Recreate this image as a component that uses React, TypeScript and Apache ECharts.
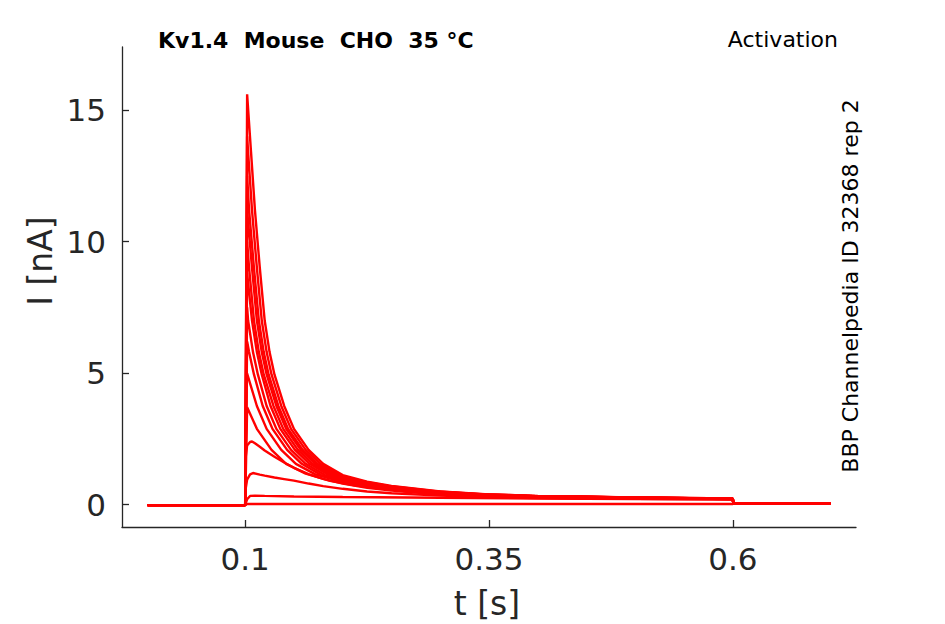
import React, { useEffect, useRef } from "react";
import * as echarts from "echarts";

// Tick positions / labels
const X_TICKS = [0.1, 0.35, 0.6];
const X_TICK_LABELS = ["0.1", "0.35", "0.6"];
const Y_TICKS = [0, 5, 10, 15];
const Y_TICK_LABELS = ["0", "5", "10", "15"];

// Baseline segments (before the step and after it), [t (s), I (nA)]
const PRE = [[0.0, -0.02], [0.1, -0.02]];
const POST = [[0.6005, 0.05], [0.7, 0.04]];

// Activation traces, [t (s), I (nA)]
const TRACE_156 = [[0.1, 0.0], [0.102, 15.6], [0.106, 13.4], [0.110, 11.2], [0.115, 9.0], [0.120, 7.0], [0.125, 5.8], [0.130, 4.95], [0.140, 3.75], [0.150, 2.88], [0.165, 2.08], [0.180, 1.55], [0.200, 1.12], [0.225, 0.87], [0.250, 0.71], [0.300, 0.50], [0.350, 0.39], [0.400, 0.33], [0.500, 0.27], [0.600, 0.23]];
const TRACE_140 = [[0.1, 0.0], [0.102, 14.0], [0.103, 13.4], [0.107, 11.2], [0.112, 9.0], [0.117, 7.0], [0.122, 5.8], [0.127, 4.95], [0.137, 3.75], [0.147, 2.88], [0.162, 2.08], [0.177, 1.55], [0.197, 1.12], [0.222, 0.87], [0.247, 0.71], [0.297, 0.50], [0.347, 0.39], [0.397, 0.33], [0.497, 0.27], [0.600, 0.23]];
const TRACE_125 = [[0.1, 0.0], [0.102, 12.5], [0.104, 11.2], [0.109, 9.0], [0.114, 7.0], [0.119, 5.8], [0.124, 4.95], [0.134, 3.75], [0.144, 2.88], [0.159, 2.08], [0.174, 1.55], [0.194, 1.12], [0.219, 0.87], [0.244, 0.71], [0.294, 0.50], [0.344, 0.39], [0.394, 0.33], [0.494, 0.27], [0.600, 0.22]];
const TRACE_112 = [[0.1, 0.0], [0.102, 11.2], [0.107, 9.0], [0.112, 7.0], [0.117, 5.8], [0.122, 4.95], [0.132, 3.75], [0.142, 2.88], [0.157, 2.08], [0.172, 1.55], [0.192, 1.12], [0.217, 0.87], [0.242, 0.71], [0.292, 0.50], [0.342, 0.39], [0.392, 0.33], [0.492, 0.27], [0.600, 0.22]];
const TRACE_100 = [[0.1, 0.0], [0.102, 10.0], [0.104, 9.0], [0.109, 7.0], [0.114, 5.8], [0.119, 4.95], [0.129, 3.75], [0.139, 2.88], [0.154, 2.08], [0.169, 1.55], [0.189, 1.12], [0.214, 0.87], [0.239, 0.71], [0.289, 0.50], [0.339, 0.39], [0.389, 0.33], [0.489, 0.27], [0.600, 0.22]];
const TRACE_088 = [[0.1, 0.0], [0.102, 8.8], [0.107, 7.0], [0.112, 5.8], [0.117, 4.95], [0.126, 3.75], [0.136, 2.88], [0.151, 2.08], [0.166, 1.55], [0.186, 1.12], [0.211, 0.87], [0.236, 0.71], [0.286, 0.50], [0.336, 0.39], [0.386, 0.33], [0.486, 0.27], [0.600, 0.22]];
const TRACE_075 = [[0.1, 0.0], [0.102, 7.5], [0.103, 7.0], [0.108, 5.8], [0.113, 4.95], [0.122, 3.75], [0.132, 2.88], [0.147, 2.08], [0.162, 1.55], [0.182, 1.12], [0.207, 0.87], [0.232, 0.71], [0.282, 0.50], [0.332, 0.39], [0.382, 0.33], [0.482, 0.27], [0.600, 0.22]];
const TRACE_062 = [[0.1, 0.0], [0.102, 6.2], [0.104, 5.8], [0.109, 4.95], [0.118, 3.75], [0.128, 2.88], [0.143, 2.08], [0.158, 1.55], [0.178, 1.12], [0.203, 0.87], [0.228, 0.71], [0.278, 0.50], [0.328, 0.39], [0.378, 0.33], [0.478, 0.27], [0.600, 0.21]];
const TRACE_050 = [[0.1, 0.0], [0.1015, 5.0], [0.102, 4.98], [0.112, 3.75], [0.122, 2.88], [0.137, 2.08], [0.152, 1.55], [0.172, 1.15], [0.197, 0.88], [0.222, 0.72], [0.272, 0.50], [0.322, 0.39], [0.372, 0.33], [0.472, 0.27], [0.600, 0.21]];
const TRACE_037 = [[0.1, 0.0], [0.102, 3.7], [0.112, 2.88], [0.127, 2.08], [0.142, 1.55], [0.162, 1.18], [0.187, 0.9], [0.212, 0.73], [0.262, 0.51], [0.312, 0.39], [0.362, 0.33], [0.462, 0.27], [0.600, 0.21]];
const TRACE_024 = [[0.1, 0.0], [0.1005, 1.8], [0.102, 2.25], [0.105, 2.38], [0.107, 2.4], [0.110, 2.33], [0.115, 2.2], [0.120, 2.06], [0.130, 1.82], [0.140, 1.6], [0.150, 1.4], [0.165, 1.16], [0.180, 0.98], [0.200, 0.8], [0.225, 0.64], [0.250, 0.53], [0.300, 0.38], [0.350, 0.3], [0.400, 0.26], [0.500, 0.22], [0.600, 0.2]];
const TRACE_012 = [[0.1, 0.0], [0.1005, 0.6], [0.102, 0.95], [0.105, 1.15], [0.108, 1.2], [0.115, 1.14], [0.120, 1.1], [0.130, 1.03], [0.140, 0.97], [0.150, 0.91], [0.165, 0.8], [0.180, 0.7], [0.200, 0.6], [0.225, 0.5], [0.250, 0.43], [0.300, 0.34], [0.350, 0.28], [0.400, 0.25], [0.500, 0.22], [0.600, 0.2]];
const TRACE_003 = [[0.1, 0.0], [0.1005, 0.05], [0.102, 0.2], [0.105, 0.33], [0.110, 0.34], [0.120, 0.33], [0.150, 0.31], [0.200, 0.29], [0.300, 0.26], [0.400, 0.23], [0.500, 0.21], [0.600, 0.2]];
const TRACE_000 = [[0.1, 0.0], [0.1005, 0.02], [0.600, 0.02]];

const TRACES = [TRACE_000, TRACE_003, TRACE_012, TRACE_024, TRACE_037, TRACE_050, TRACE_062, TRACE_075, TRACE_088, TRACE_100, TRACE_112, TRACE_125, TRACE_140, TRACE_156];

const TITLE = "Kv1.4  Mouse  CHO  35 °C";
const PROTOCOL = "Activation";
const SOURCE = "BBP Channelpedia ID 32368 rep 2";
const X_NAME = "t [s]";
const Y_NAME = "I [nA]";

const FONT = "'DejaVu Sans', 'Noto Sans', sans-serif";
const AXIS_COLOR = "#262626";

export default function App() {
  const ref = useRef<HTMLDivElement>(null);
  useEffect(() => {
    if (!ref.current) return;
    const chart = echarts.init(ref.current, undefined, { renderer: "svg" });
    const series = TRACES.map((tr) => ({
      type: "line",
      data: [...PRE, ...tr, ...POST],
      showSymbol: false,
      symbol: "none",
      lineStyle: { color: "#ff0000", width: 2.4 },
      itemStyle: { color: "#ff0000" },
      emphasis: { disabled: true },
      silent: true,
      z: 2,
    }));
    chart.setOption({
      animation: false,
      backgroundColor: "#ffffff",
      grid: { left: 122, right: 89, top: 47, bottom: 97, containLabel: false },
      xAxis: {
        type: "value",
        min: -0.0263,
        max: 0.7263,
        axisLine: { show: true, onZero: false, lineStyle: { color: AXIS_COLOR, width: 1.3 } },
        axisTick: { show: true, inside: true, length: 7, customValues: X_TICKS, lineStyle: { color: AXIS_COLOR, width: 1.3 } },
        axisLabel: {
          customValues: X_TICKS,
          formatter: (v: number) => {
            const i = X_TICKS.findIndex((t) => Math.abs(t - v) < 1e-9);
            return i >= 0 ? X_TICK_LABELS[i] : "";
          },
          color: AXIS_COLOR,
          fontSize: 31,
          fontFamily: FONT,
          margin: 16,
        },
        splitLine: { show: false },
      },
      yAxis: {
        type: "value",
        min: -0.852,
        max: 17.4,
        axisLine: { show: true, onZero: false, lineStyle: { color: AXIS_COLOR, width: 1.3 } },
        axisTick: { show: true, inside: true, length: 7, customValues: Y_TICKS, lineStyle: { color: AXIS_COLOR, width: 1.3 } },
        axisLabel: {
          customValues: Y_TICKS,
          formatter: (v: number) => {
            const i = Y_TICKS.findIndex((t) => Math.abs(t - v) < 1e-9);
            return i >= 0 ? Y_TICK_LABELS[i] : "";
          },
          color: AXIS_COLOR,
          fontSize: 31,
          fontFamily: FONT,
          margin: 16,
        },
        splitLine: { show: false },
      },
      graphic: [
        {
          type: "text",
          x: 158,
          y: 40,
          style: { text: TITLE, fill: "#000000", font: `bold 22px ${FONT}`, align: "left", verticalAlign: "middle" },
        },
        {
          type: "text",
          x: 838,
          y: 39,
          style: { text: PROTOCOL, fill: "#000000", font: `22px ${FONT}`, align: "right", verticalAlign: "middle" },
        },
        {
          type: "text",
          x: 850,
          y: 286,
          rotation: Math.PI / 2,
          style: { text: SOURCE, fill: "#000000", font: `22px ${FONT}`, align: "center", verticalAlign: "middle" },
        },
        {
          type: "text",
          x: 487,
          y: 603,
          style: { text: X_NAME, fill: AXIS_COLOR, font: `33px ${FONT}`, align: "center", verticalAlign: "middle" },
        },
        {
          type: "text",
          x: 40,
          y: 261,
          rotation: Math.PI / 2,
          style: { text: Y_NAME, fill: AXIS_COLOR, font: `33px ${FONT}`, align: "center", verticalAlign: "middle" },
        },
      ],
      series,
    });
    return () => chart.dispose();
  }, []);
  return <div ref={ref} style={{ position: "fixed", left: 0, top: 0, width: 945, height: 624 }} />;
}
